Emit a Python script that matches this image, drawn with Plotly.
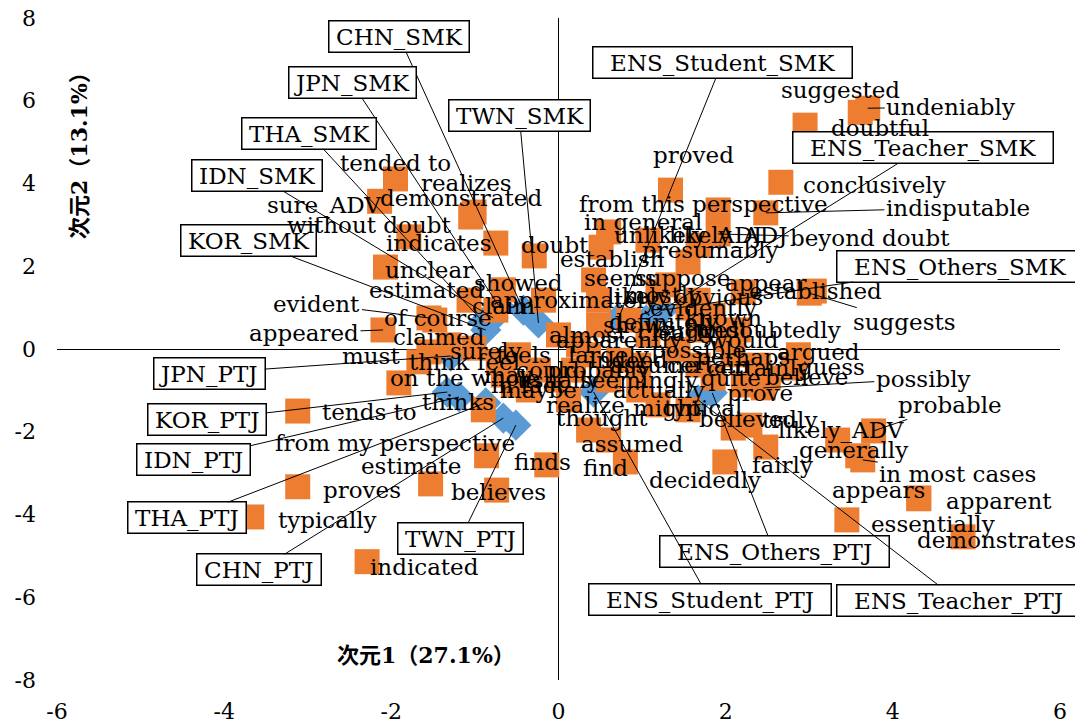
import plotly.graph_objects as go

# ---- word points (dimension 1, dimension 2) ----
words = ["undeniably", "suggested", "doubtful", "conclusively", "indisputable",
         "from this perspective", "proved", "beyond doubt", "unlikely_ADJ", "in general",
         "presumably", "establish", "seems", "suppose", "appear", "established",
         "suggests", "argued", "guess", "believe", "possibly", "prove", "probable",
         "likely_ADV", "generally", "in most cases", "truly", "believed", "fairly",
         "decidedly", "find", "finds", "assumed", "thought", "believes", "indicated",
         "typically", "proves", "estimate", "from my perspective", "tends to", "thinks",
         "on the whole", "think", "must", "surely", "claimed", "appeared", "of course",
         "evident", "estimated", "unclear", "indicates", "without doubt", "demonstrated",
         "realizes", "tended to", "sure_ADV", "doubt", "showed", "approximately", "claim",
         "likely", "mostly", "obvious", "evidently", "known", "undoubtedly", "would",
         "shows", "definitely", "almost", "apparently", "clearly", "possible", "perhaps",
         "certainly", "quite", "feels", "feel", "probably", "usually", "maybe",
         "seemingly", "actually", "realize", "might", "typical", "indeed", "largely",
         "suggest", "assume", "could", "may", "in fact", "certain", "likely_ADJ",
         "appears", "apparent", "essentially", "demonstrates"]
word_x = [3.70, 3.61, 2.95, 2.66, 2.48, 1.91, 1.34, 1.91, 1.07, 0.60,
          1.55, 0.51, 0.42, 1.31, 2.21, 3.06, 3.00, 2.87, 2.81, 2.51,
          2.45, 2.21, 3.77, 3.34, 3.58, 3.64, 2.29, 2.09, 2.48, 1.99,
          0.80, -0.14, 0.60, 0.36, -0.74, -2.29, -3.67, -3.12, -1.53, -0.86,
          -3.12, -0.90, -1.91, -1.67, -1.55, -1.01, -1.31, -2.10, -1.48, -1.55,
          -1.07, -2.07, -0.75, -1.79, -1.05, -1.01, -1.95, -2.14, -0.29, -0.66,
          -0.18, -0.75, 0.48, 1.19, 1.67, 1.55, 1.85, 2.15, 2.03, 0.48,
          0.84, 0.00, 0.24, 1.07, 1.43, 2.09, 2.39, 1.85, -0.48, -0.72,
          0.18, 0.00, -0.36, 0.60, 0.96, 0.12, 1.19, 1.55, 0.72, 0.36,
          1.67, 0.96, -0.24, -0.66, -0.54, 1.67, 1.67,
          4.31, 4.31, 3.45, 4.84]
word_y = [5.82, 5.72, 5.41, 4.03, 3.29, 3.36, 3.84, 2.78, 2.63, 2.83,
          2.10, 2.46, 1.67, 1.55, 1.38, 1.40, 1.35, -0.14, -0.46, -0.70,
          -0.94, -0.87, -1.98, -2.20, -2.58, -2.68, -1.84, -1.91, -2.37, -2.73,
          -2.73, -2.80, -2.20, -1.96, -3.41, -5.14, -4.06, -3.33, -3.26, -2.58,
          -1.50, -1.47, -0.82, -0.31, -0.07, 0.02, 0.10, 0.46, 0.70, 0.75,
          1.18, 1.98, 2.56, 2.71, 3.19, 3.31, 4.11, 3.57, 2.25, 1.43,
          1.18, 0.94, 1.18, 1.38, 1.18, 0.99, 0.82, 0.46, 0.22, 0.58,
          0.70, 0.34, 0.10, 0.34, -0.02, -0.14, -0.39, -0.70, -0.14, -0.31,
          -0.51, -0.75, -0.99, -0.75, -0.99, -1.23, -1.35, -1.47, -0.27, -0.14,
          0.46, -0.39, -0.51, -0.63, -0.87, -0.39, 2.51,
          -3.62, -3.60, -4.13, -4.54]

# label placement (pixel offsets of the label centre from its point) and leader flag
lab_dx = [83, -20, 75, 94, 192, -15, 23, 152, 40, 34,
          22, 11, 27, 15, 22, 1, 95, 20, 38, 38,
          160, 17, 76, 3, -4, 95, 40, 15, 17, -20,
          -20, -4, 24, 13, 2, 57, 76, 64, -20, -92,
          72, -25, 66, 21, -58, 12, -10, -79, 3, -112,
          -43, 44, -57, -40, -10, -8, 0, -56, 21, 15,
          30, 8, 40, 5, 20, 15, 10, 30, 15, 40,
          35, 30, 40, 30, 20, 10, 0, 18, 5, 0,
          25, 0, 10, 30, 20, 17, 10, 15, 10, 20,
          5, 15, 10, 5, 15, 10, 30,
          -40, 80, 86, 33]
lab_dy = [-1, -22, 3, 3, -5, -6, -35, 4, -5, -10,
          -12, 12, -2, -7, -9, 0, 29, -3, -1, -1,
          -9, 8, -26, -10, -6, 14, -5, -9, 18, 18,
          6, -3, 4, -12, 2, 5, 3, 3, -18, -13,
          1, -8, -5, 0, 4, 3, -8, 3, -2, -14,
          -10, 3, 0, -12, -19, -29, -16, 4, -11, -7,
          0, -4, -4, 3, -3, 0, 3, 0, 0, 0,
          2, 0, -5, -2, 0, 2, 3, 0, 0, 0,
          0, 0, 0, 0, 0, 5, 3, -2, 0, 0,
          0, 0, 0, 0, 0, 0, -10,
          -9, 3, 4, 3]
lab_lead = {"undeniably", "indisputable", "beyond doubt", "suggests", "possibly",
            "probable", "in most cases", "appeared", "evident"}

# ---- group points ----
groups = ["CHN_SMK", "JPN_SMK", "TWN_SMK", "THA_SMK", "IDN_SMK", "KOR_SMK",
          "ENS_Student_SMK", "ENS_Teacher_SMK", "ENS_Others_SMK",
          "JPN_PTJ", "KOR_PTJ", "IDN_PTJ", "THA_PTJ", "CHN_PTJ", "TWN_PTJ",
          "ENS_Others_PTJ", "ENS_Student_PTJ", "ENS_Teacher_PTJ"]
group_x = [-0.42, -0.72, -0.24, -0.90, -0.78, -0.87, 0.72, 1.05, 1.25,
           -1.29, -1.33, -1.19, -0.87, -0.66, -0.51, 1.84, 0.42, 1.67]
group_y = [0.94, 1.06, 0.63, 0.65, 0.75, 0.46, 0.75, 0.70, 0.94,
           -0.17, -1.04, -1.16, -1.30, -1.67, -1.84, -1.06, -1.04, -1.23]
# label box centres
box_x = [-1.91, -2.47, -0.47, -2.99, -3.61, -3.71, 1.96, 4.36, 4.80,
         -4.18, -4.21, -4.37, -4.44, -3.58, -1.17, 2.58, 1.81, 4.79]
box_y = [7.56, 6.43, 5.65, 5.22, 4.20, 2.63, 6.93, 4.86, 2.00,
         -0.58, -1.71, -2.66, -4.08, -5.34, -4.57, -4.90, -6.06, -6.09]

x_title = "次元1（27.1%）"
y_title = "次元2（13.1%）"
x_ticks = [-6, -4, -2, 0, 2, 4, 6]
y_ticks = [-8, -6, -4, -2, 0, 2, 4, 6, 8]

ORANGE = "#ED7D31"
BLUE = "#5B9BD5"
FONT = "DejaVu Serif, Noto Sans CJK JP"
FS = 23

fig = go.Figure()
fig.add_trace(go.Scatter(x=group_x, y=group_y, mode="markers",
                         marker=dict(symbol="diamond", size=24, color=BLUE, line=dict(width=0)),
                         hoverinfo="skip", showlegend=False))
fig.add_trace(go.Scatter(x=word_x, y=word_y, mode="markers",
                         marker=dict(symbol="square", size=25, color=ORANGE, line=dict(width=0)),
                         hoverinfo="skip", showlegend=False))

ann = []
for g, x, y, bx, by in zip(groups, group_x, group_y, box_x, box_y):
    pad = "\u00a0\u00a0" if g.startswith("ENS") else "\u2009"
    ann.append(dict(x=x, y=y, ax=bx, ay=by, axref="x", ayref="y",
                    text=pad + g + pad, showarrow=True,
                    arrowhead=0, arrowwidth=1, arrowcolor="black", standoff=0,
                    bgcolor="white", bordercolor="black", borderwidth=1.5, borderpad=2,
                    font=dict(family=FONT, size=FS, color="black")))

for w, x, y, dx, dy in zip(words, word_x, word_y, lab_dx, lab_dy):
    if w in lab_lead:
        ann.append(dict(x=x, y=y, text=w, showarrow=True, ax=dx, ay=dy,
                        arrowhead=0, arrowwidth=1, arrowcolor="black", standoff=0,
                        font=dict(family=FONT, size=FS, color="black")))
    else:
        ann.append(dict(x=x, y=y, text=w, showarrow=False, xshift=dx, yshift=-dy,
                        font=dict(family=FONT, size=FS, color="black")))

ann.append(dict(x=-1.58, y=-7.39, text="<b>" + x_title + "</b>", showarrow=False,
                font=dict(family=FONT, size=22, color="black")))
ann.append(dict(x=-5.73, y=4.8, text="<b>" + y_title + "</b>", showarrow=False,
                textangle=-90, font=dict(family=FONT, size=22, color="black")))

fig.update_layout(
    width=1075, height=715,
    margin=dict(l=49, r=23, t=10, b=43, autoexpand=False),
    paper_bgcolor="white", plot_bgcolor="white",
    annotations=ann,
    xaxis=dict(range=[-6, 6], tickvals=x_ticks, ticktext=[str(v) for v in x_ticks],
               showgrid=False, zeroline=True, zerolinecolor="black", zerolinewidth=1,
               showline=False, ticks="", ticklabelstandoff=16, automargin=False,
               ticklabeloverflow="allow",
               tickfont=dict(family=FONT, size=22, color="black")),
    yaxis=dict(range=[-8, 8], tickvals=y_ticks, ticktext=[str(v) for v in y_ticks],
               showgrid=False, zeroline=True, zerolinecolor="black", zerolinewidth=1,
               showline=False, ticks="", ticklabelstandoff=20, automargin=False,
               ticklabeloverflow="allow",
               tickfont=dict(family=FONT, size=22, color="black")),
)
fig.write_html("out.html")
